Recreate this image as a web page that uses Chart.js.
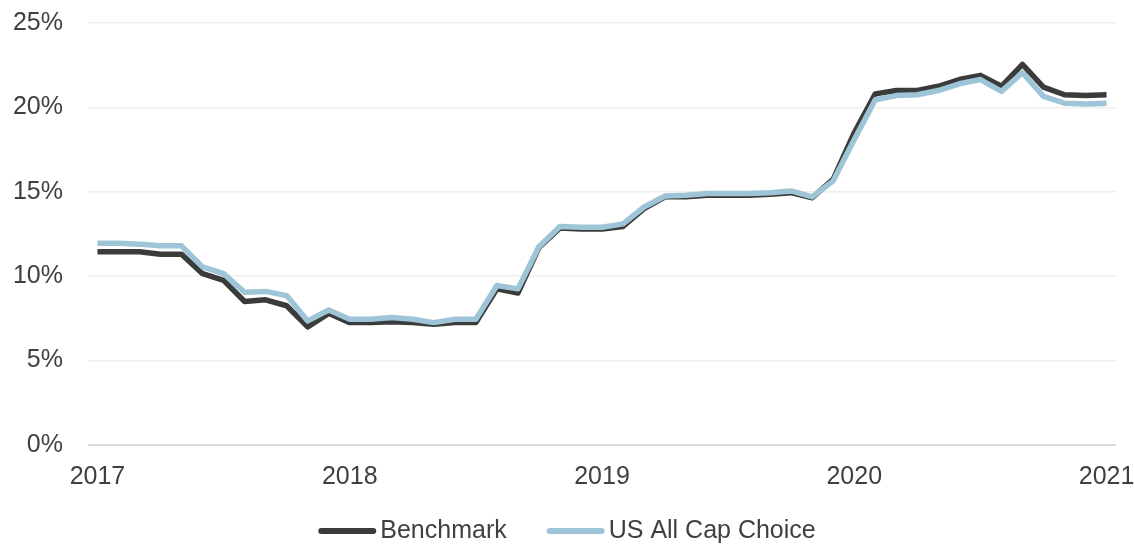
<!DOCTYPE html>
<html>
<head>
<meta charset="utf-8">
<script src="https://cdn.jsdelivr.net/npm/chart.js@4"></script>
<style>
  html, body { margin: 0; padding: 0; background: #fff; }
</style>
</head>
<body>
<canvas id="chart" width="1134" height="546"></canvas>
<script>
// monthly points, Jan 2017 .. Jan 2021 (index 0..48)
const yearTicks = [0, 12, 24, 36, 48]
const yearLabels = ['2017', '2018', '2019', '2020', '2021']

const benchmark = [
  11.45, 11.45, 11.45, 11.3, 11.3, 10.15, 9.75, 8.5, 8.6, 8.25, 7.0, 7.8,
  7.25, 7.25, 7.3, 7.25, 7.15, 7.25, 7.25, 9.25, 9.0, 11.7, 12.85, 12.8,
  12.8, 12.95, 14.0, 14.7, 14.7, 14.8, 14.8, 14.8, 14.85, 14.95, 14.65, 15.75,
  18.5, 20.8, 21.0, 21.0, 21.25, 21.65, 21.9, 21.25, 22.55, 21.2, 20.75, 20.7,
  20.75,
]
const usAllCap = [
  11.95, 11.95, 11.9, 11.8, 11.8, 10.55, 10.15, 9.05, 9.1, 8.85, 7.35, 8.0,
  7.45, 7.45, 7.55, 7.45, 7.25, 7.45, 7.45, 9.45, 9.25, 11.75, 12.95, 12.9,
  12.9, 13.1, 14.1, 14.75, 14.8, 14.9, 14.9, 14.9, 14.95, 15.05, 14.7, 15.65,
  18.1, 20.45, 20.7, 20.75, 21.0, 21.4, 21.65, 20.95, 22.05, 20.65, 20.25, 20.2,
  20.25,
]

const FONT = "'Liberation Sans', Arial, sans-serif"
const TEXT = '#404040'

const toPoints = (arr) => arr.map((v, i) => ({ x: i, y: v }))

// legend drawn by hand: Excel style line marker right next to the text
const lineLegend = {
  id: 'lineLegend',
  afterDraw(chart) {
    const ctx = chart.ctx
    const sets = chart.data.datasets
    const markW = 58
    const gap = 4
    const itemGap = 40
    ctx.save()
    ctx.font = '25px ' + FONT
    const widths = sets.map((d) => markW + gap + ctx.measureText(d.label).width)
    const total = widths.reduce((a, b) => a + b, 0) + itemGap * (sets.length - 1)
    let x = chart.width / 2 - total / 2
    const y = 531
    sets.forEach((d, i) => {
      ctx.strokeStyle = d.borderColor
      ctx.lineWidth = 6
      ctx.lineCap = 'round'
      ctx.beginPath()
      ctx.moveTo(x + 3, y)
      ctx.lineTo(x + markW - 3, y)
      ctx.stroke()
      ctx.fillStyle = TEXT
      ctx.textBaseline = 'middle'
      ctx.fillText(d.label, x + markW + gap, y)
      x += widths[i] + itemGap
    })
    ctx.restore()
  },
}

const config = {
  type: 'line',
  data: {
    datasets: [
      {
        label: 'Benchmark',
        data: toPoints(benchmark),
        borderColor: '#3b3b3b',
        backgroundColor: '#3b3b3b',
        borderWidth: 5.5,
        order: 1,
      },
      {
        label: 'US All Cap Choice',
        data: toPoints(usAllCap),
        borderColor: '#9ec5d7',
        backgroundColor: '#9ec5d7',
        borderWidth: 5.5,
        order: 0,
      },
    ],
  },
  options: {
    responsive: false,
    animation: false,
    layout: { padding: { left: 13, right: 18, top: 23, bottom: 44 } },
    elements: {
      point: { radius: 0 },
      line: { tension: 0, borderJoinStyle: 'round', borderCapStyle: 'butt' },
    },
    plugins: {
      legend: { display: false },
      tooltip: { enabled: false },
    },
    scales: {
      x: {
        type: 'linear',
        min: -0.45,
        max: 48.45,
        afterBuildTicks: (scale) => {
          scale.ticks = yearTicks.map((v) => ({ value: v }))
        },
        afterFit: (scale) => {
          scale.height = 57
          scale.paddingLeft = 0
          scale.paddingRight = 0
        },
        grid: { display: false, drawTicks: false },
        border: { display: false },
        ticks: {
          padding: 17,
          maxRotation: 0,
          autoSkip: false,
          color: TEXT,
          font: { family: FONT, size: 25 },
          callback: (v) => yearLabels[yearTicks.indexOf(v)],
        },
      },
      y: {
        min: 0,
        max: 25,
        afterFit: (scale) => {
          scale.width = 75
          scale.paddingTop = 0
          scale.paddingBottom = 0
        },
        grid: {
          drawTicks: false,
          color: (c) => (c.tick.value === 0 ? '#d9d9d9' : '#efefef'),
          lineWidth: (c) => (c.tick.value === 0 ? 2 : 1.5),
        },
        border: { display: false },
        ticks: {
          stepSize: 5,
          padding: 25,
          color: TEXT,
          font: { family: FONT, size: 25 },
          callback: (v) => v + '%',
        },
      },
    },
  },
  plugins: [lineLegend],
}

const el = document.getElementById('chart')
window.myLine = new Chart(el, config)
</script>
</body>
</html>
